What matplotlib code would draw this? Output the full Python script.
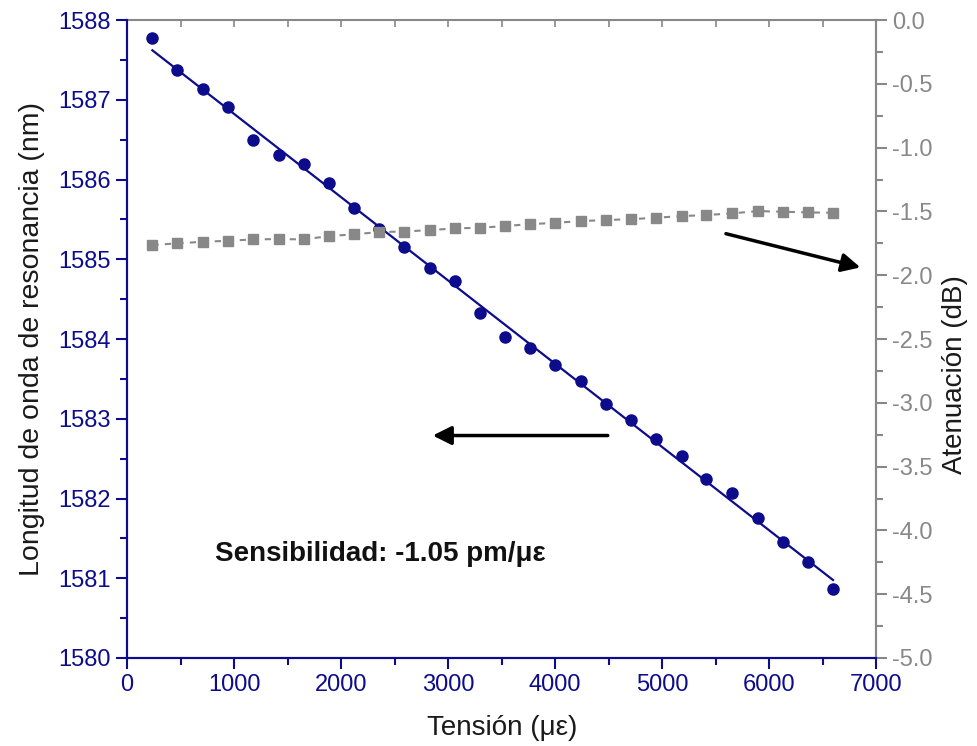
import numpy as np
import matplotlib
matplotlib.use('Agg')
import matplotlib.pyplot as plt
from matplotlib.ticker import MultipleLocator

plt.rcParams['font.family'] = ['Liberation Sans', 'DejaVu Sans']

# strain (microstrain)
tension = [237, 471, 712, 940, 1174, 1424, 1649, 1887, 2121, 2355,
           2587, 2831, 3065, 3293, 3534, 3768, 4002, 4241, 4476, 4710,
           4946, 5183, 5408, 5649, 5893, 6127, 6361, 6595]

# resonance wavelength (nm)
longitud = [1587.77, 1587.37, 1587.14, 1586.91, 1586.50, 1586.31, 1586.19,
            1585.96, 1585.65, 1585.38, 1585.15, 1584.89, 1584.73, 1584.33,
            1584.03, 1583.89, 1583.68, 1583.47, 1583.18, 1582.99, 1582.75,
            1582.53, 1582.24, 1582.07, 1581.76, 1581.46, 1581.20, 1580.87]

# attenuation (dB)
atenuacion = [-1.763, -1.750, -1.737, -1.730, -1.719, -1.716, -1.719,
              -1.693, -1.679, -1.661, -1.657, -1.646, -1.632, -1.628,
              -1.614, -1.599, -1.589, -1.575, -1.567, -1.560, -1.549,
              -1.536, -1.528, -1.515, -1.497, -1.502, -1.507, -1.510]

navy = '#0c0c8c'
grey = '#888888'

fig, ax1 = plt.subplots()
fig.set_size_inches(9.77, 7.46)
fig.subplots_adjust(left=0.130, right=0.897, top=0.973, bottom=0.118)
ax2 = ax1.twinx()

x = np.array(tension)
y = np.array(longitud)

# linear fit
p = np.polyfit(x, y, 1)
x_fit = np.array([x.min(), x.max()])
ax1.plot(x_fit, np.polyval(p, x_fit), color=navy, linewidth=1.6, zorder=3)
ax1.plot(x, y, 'o', color=navy, markersize=8, zorder=4)

ax2.plot(x, atenuacion, color=grey, linestyle=(0, (3, 3)), linewidth=1.5,
         marker='s', markersize=6.5, zorder=2)

ax1.set_xlim(0, 7000)
ax1.set_ylim(1580, 1588)
ax2.set_ylim(-5.0, 0.0)

ax1.xaxis.set_major_locator(MultipleLocator(1000))
ax1.xaxis.set_minor_locator(MultipleLocator(500))
ax1.yaxis.set_major_locator(MultipleLocator(1))
ax1.yaxis.set_minor_locator(MultipleLocator(0.5))
ax2.yaxis.set_major_locator(MultipleLocator(0.5))
ax2.yaxis.set_minor_locator(MultipleLocator(0.25))
ax2.yaxis.set_major_formatter(matplotlib.ticker.FormatStrFormatter('%.1f'))

ax1.tick_params(axis='both', which='major', direction='out', length=8, width=1.5,
                color=navy, labelcolor=navy, labelsize=17)
ax1.tick_params(axis='both', which='minor', direction='out', length=5, width=1.5,
                color=navy)
ax2.tick_params(axis='y', which='major', direction='out', length=8, width=1.5,
                color=grey, labelcolor=grey, labelsize=17)
ax2.tick_params(axis='y', which='minor', direction='out', length=5, width=1.5,
                color=grey)

# top axis: grey, inward ticks
top = ax1.secondary_xaxis('top')
top.xaxis.set_major_locator(MultipleLocator(500))
top.tick_params(direction='in', length=5, width=1.2, color=grey, labeltop=False)
top.spines['top'].set_color(grey)
top.spines['top'].set_linewidth(1.5)

for ax in (ax1, ax2):
    ax.spines['left'].set_color(navy)
    ax.spines['bottom'].set_color(navy)
    ax.spines['right'].set_color(grey)
    ax.spines['top'].set_visible(False)
    for s in ax.spines.values():
        s.set_linewidth(1.5)

ax1.set_xlabel('Tensión (με)', fontsize=20, color='#1a1a1a', labelpad=14)
ax1.set_ylabel('Longitud de onda de resonancia (nm)', fontsize=20.5, color='#1a1a1a', labelpad=10)
ax2.set_ylabel('Atenuación (dB)', fontsize=20, color='#1a1a1a')
ax2.yaxis.set_label_coords(1.088, 0.445)

ax1.text(2365, 1581.3, 'Sensibilidad: -1.05 pm/με', fontsize=20, fontweight='bold',
         color='#111111', ha='center', va='center')

arrow = dict(arrowstyle='-|>', color='black', lw=2.5, mutation_scale=28)
ax1.annotate('', xy=(6876, 1584.89), xytext=(5570, 1585.33), arrowprops=arrow)
ax1.annotate('', xy=(2830, 1582.79), xytext=(4517, 1582.79), arrowprops=arrow)

fig.savefig('out.png', dpi=100)
